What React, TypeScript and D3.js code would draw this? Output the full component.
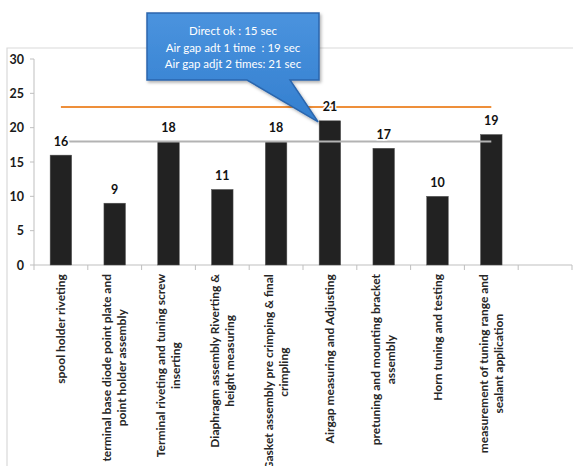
import React, { useMemo } from "react";
import * as d3 from "d3";

const categories = [
  "spool holder riveting",
  "terminal base diode point plate and\npoint holder assembly",
  "Terminal riveting and tuning screw\ninserting",
  "Diaphragm assembly Riverting &\nheight measuring",
  "Gasket assembly pre crimping & final\ncrimpling",
  "Airgap measuring and Adjusting",
  "pretuning and mounting bracket\nassembly",
  "Horn tuning and testing",
  "measurement of tuning range and\nsealant application",
];
const values = [16, 9, 18, 11, 18, 21, 17, 10, 19];
const orangeLineValue = 23;
const grayLineValue = 18;
const yTicks = [0, 5, 10, 15, 20, 25, 30];
const calloutLines = [
  "Direct ok : 15 sec",
  "Air gap adt 1 time  : 19 sec",
  "Air gap adjt 2 times: 21 sec",
];

const W = 573;
const H = 466;
const FONT = "Lato, 'Open Sans', sans-serif";
const LABEL_SIZE = 12;

export default function App() {
  const domain = [...categories.map((_, i) => String(i)), "blank"];
  const x = d3
    .scaleBand<string>()
    .domain(domain)
    .range([34, 572])
    .paddingInner(0.6)
    .paddingOuter(0.3);
  const step = x.step();
  const x0 = 34;
  const y = d3.scaleLinear().domain([0, 30]).range([265, 59]);
  const cx = (i: number) => (x(String(i)) as number) + x.bandwidth() / 2;

  const labelFont = `bold ${LABEL_SIZE}px ${FONT}`;
  const measure = useMemo(() => {
    const c = document.createElement("canvas");
    const ctx = c.getContext("2d")!;
    ctx.font = labelFont;
    return (s: string) => ctx.measureText(s).width;
  }, []);

  const lineX1 = cx(0);
  const lineX2 = cx(categories.length - 1);

  // callout geometry derived from the bar it points to
  const tipX = (x("5") as number) - 1;
  const tipY = y(values[5]) + 1;
  const box = { x1: 147, y1: 13, x2: 319, y2: 80 };
  const calloutPath = `M${box.x1},${box.y1} H${box.x2} V${box.y2} H290 L${tipX},${tipY} L247,${box.y2} H${box.x1} Z`;

  return (
    <svg
      width={W}
      height={H}
      style={{ position: "absolute", left: 0, top: 0, background: "#fff" }}
      fontFamily={FONT}
    >
      <defs>
        <linearGradient id="cg" x1="0" y1="0" x2="0" y2="1">
          <stop offset="0%" stopColor="#4a93de" />
          <stop offset="100%" stopColor="#347fcf" />
        </linearGradient>
        <filter id="sh" x="-20%" y="-20%" width="140%" height="140%">
          <feDropShadow dx="1.5" dy="2" stdDeviation="1.5" floodColor="#000" floodOpacity="0.3" />
        </filter>
      </defs>
      <rect x={0} y={0} width={W} height={H} fill="#fff" />
      {/* chart frame */}
      <path d={`M7,${H} V48 H${W}`} fill="none" stroke="#d9d9d9" strokeWidth={1.2} />

      {/* y axis */}
      <line x1={x0} x2={x0} y1={y(30)} y2={y(0)} stroke="#bfbfbf" />
      {yTicks.map((t) => (
        <g key={t}>
          <line x1={x0 - 4} x2={x0} y1={y(t)} y2={y(t)} stroke="#bfbfbf" />
          <text
            x={24}
            y={y(t)}
            dy="0.36em"
            textAnchor="end"
            fontSize={12.5}
            fontWeight="bold"
            fill="#1a1a1a"
          >
            {t}
          </text>
        </g>
      ))}

      {/* x axis */}
      <line x1={x0} x2={x0 + step * domain.length} y1={y(0)} y2={y(0)} stroke="#bfbfbf" />
      {d3.range(domain.length + 1).map((i) => (
        <line
          key={i}
          x1={x0 + i * step}
          x2={x0 + i * step}
          y1={y(0)}
          y2={y(0) + 5}
          stroke="#bfbfbf"
        />
      ))}

      {/* bars */}
      {values.map((v, i) => (
        <rect
          key={i}
          x={x(String(i))}
          y={y(v)}
          width={x.bandwidth()}
          height={y(0) - y(v)}
          fill="#222222"
          stroke="#555"
          strokeWidth={0.5}
        />
      ))}

      {/* reference lines */}
      <line
        x1={lineX1}
        x2={lineX2}
        y1={y(orangeLineValue)}
        y2={y(orangeLineValue)}
        stroke="#ee8f3a"
        strokeWidth={2}
      />
      <line
        x1={lineX1}
        x2={lineX2}
        y1={y(grayLineValue)}
        y2={y(grayLineValue)}
        stroke="#b3b3b3"
        strokeWidth={2}
      />

      {/* value labels */}
      {values.map((v, i) => (
        <text
          key={i}
          x={cx(i)}
          y={y(v) - 9.5}
          textAnchor="middle"
          fontSize={12.5}
          fontWeight="bold"
          fill="#111"
          stroke="#fff"
          strokeWidth={3}
          paintOrder="stroke"
        >
          {v}
        </text>
      ))}

      {/* category labels */}
      {categories.map((c, i) => {
        const lines = c.split("\n");
        const w = Math.max(...lines.map(measure));
        const spacing = 15;
        return (
          <g key={i} transform={`translate(${cx(i)},274) rotate(-90)`}>
            {lines.map((ln, j) => (
              <text
                key={j}
                x={-w / 2}
                y={(j - (lines.length - 1) / 2) * spacing}
                dy="0.35em"
                textAnchor="middle"
                fontSize={LABEL_SIZE}
                fontWeight="bold"
                fill="#262626"
              >
                {ln}
              </text>
            ))}
          </g>
        );
      })}

      {/* callout */}
      <path d={calloutPath} fill="url(#cg)" stroke="#2b66ad" strokeWidth={1.5} filter="url(#sh)" />
      {calloutLines.map((t, i) => (
        <text
          key={i}
          x={233}
          y={31 + i * 16.5}
          dy="0.35em"
          textAnchor="middle"
          fontSize={11.5}
          fill="#fff"
          style={{ whiteSpace: "pre" }}
        >
          {t}
        </text>
      ))}
    </svg>
  );
}
